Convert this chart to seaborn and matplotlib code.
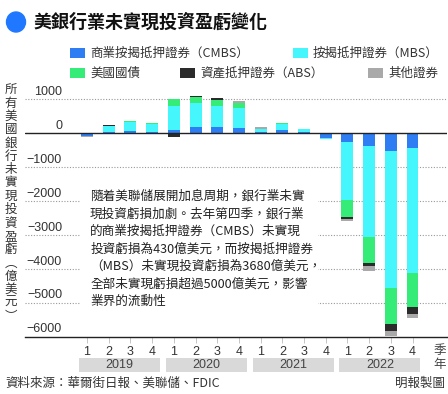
import numpy as np
import pandas as pd
import matplotlib
matplotlib.use("Agg")
import matplotlib.pyplot as plt
from matplotlib.patches import Rectangle, Ellipse
import seaborn as sns

# data (億美元)
years = ["2019", "2020", "2021", "2022"]
quarters = ["1", "2", "3", "4"] * 4
cmbs = [-75, 49, 69, 30, 98, 176, 186, 167, 30, 98, 49, -150, -245, -392, -520, -430]
mbs = [0, 167, 275, 245, 715, 725, 627, 588, 108, 186, 69, -30, -1716, -2678, -4030, -3680]
treasury = [0, 0, 20, 20, 186, 176, 167, 147, 0, 20, 0, 0, -520, -765, -1088, -1020]
abs_sec = [0, 30, 0, 0, -100, 25, 50, 0, 0, 0, 0, 0, -49, -88, -196, -186]
other = [-30, 0, 0, 0, 0, 0, 0, 50, 30, 0, 20, 0, -69, -147, -147, -147]

series_names = ["商業按揭抵押證券（CMBS）", "按揭抵押證券（MBS）", "美國國債",
                "資產抵押證券（ABS）", "其他證券"]
colors = ["#2e7df2", "#45f6fc", "#35ec78", "#2b2b2b", "#a9a9a9"]
yticks = [1000, 0, -1000, -2000, -3000, -4000, -5000, -6000]

df = pd.DataFrame({series_names[0]: cmbs, series_names[1]: mbs, series_names[2]: treasury,
                   series_names[3]: abs_sec, series_names[4]: other})

sns.set_theme(style="white")
plt.rcParams['font.family'] = ['Noto Sans CJK TC', 'DejaVu Sans']

W, H = 448, 394
fig = plt.figure(figsize=(W / 100, H / 100), dpi=100)
ax = fig.add_axes([25 / W, (H - 336.7) / H, 422 / W, (336.7 - 89.1) / H])

# stacked bars, positives go up and negatives go down
x = np.arange(len(df))
pos = np.zeros(len(df))
neg = np.zeros(len(df))
for col, c in zip(df.columns, colors):
    v = df[col].to_numpy(dtype=float)
    bottom = np.where(v >= 0, pos, neg)
    ax.bar(x, v, width=0.55, bottom=bottom, color=c, linewidth=0, zorder=3)
    pos = pos + np.clip(v, 0, None)
    neg = neg + np.clip(v, None, 0)

ax.set_xlim(-2.86, 16.59)
ax.set_ylim(-6000, 1300)

for t in yticks:
    if t == 0:
        ax.axhline(0, color="#222222", lw=1.0, zorder=4)
    elif t != -6000:
        ax.axhline(t, color="#999999", lw=0.8, ls=(0, (1, 1.5)), zorder=1)
    lab = str(t).replace("-", "\u2212")
    ax.text(-1.15, t + 40, lab, ha="right", va="bottom", fontsize=9,
            family=["Liberation Sans"], color="#333333", zorder=5)

sns.despine(ax=ax, left=True, top=True, right=True)
ax.spines["bottom"].set_color("#222222")
ax.spines["bottom"].set_linewidth(1.0)
ax.set_yticks([])
ax.set_xticks(x)
ax.set_xticklabels(quarters, fontsize=9, family=["Liberation Sans"], color="#333333")
ax.tick_params(axis="x", bottom=True, length=4, width=0.6, color="#bbbbbb", pad=3)
ax.grid(False)

# year boxes under the quarter labels
tr = ax.get_xaxis_transform()
for k, yr in enumerate(years):
    ax.add_patch(Rectangle((4 * k - 0.37, -0.141), 3.73, 0.0565, transform=tr,
                           facecolor="#d9d9d9", edgecolor="none", clip_on=False))
    ax.text(4 * k + 1.5, -0.113, yr, transform=tr, ha="center", va="center",
            fontsize=9, family=["Liberation Sans"], color="#444444")
ax.text(16.27, -0.055, "季", transform=tr, ha="center", va="center", fontsize=9, color="#444444")
ax.text(16.27, -0.113, "年", transform=tr, ha="center", va="center", fontsize=9, color="#444444")

# annotation box
ax.add_patch(Rectangle((-0.32, -5200), 10.97, 3680, facecolor="white", edgecolor="none", zorder=2))
note = ["隨着美聯儲展開加息周期，銀行業未實",
        "現投資虧損加劇。去年第四季，銀行業",
        "的商業按揭抵押證券（CMBS）未實現",
        "投資虧損為430億美元，而按揭抵押證券",
        "（MBS）未實現投資虧損為3680億美元，",
        "全部未實現虧損超過5000億美元，影響",
        "業界的流動性"]
for i, line in enumerate(note):
    ypx = 196.7 + 17.5 * i
    ax.text(0.14, (133.3 - ypx) / 34 * 1000, line, ha="left", va="center",
            fontsize=9.1, color="#222222", zorder=5)

# title
fig.add_artist(Ellipse((16 / W, 1 - 22 / H), 19 / W, 20 / H, color="#1f78ff"))
fig.text(33 / W, 1 - 22 / H, "美銀行業未實現投資盈虧變化", fontsize=13, fontweight="bold",
         ha="left", va="center", color="#111111")

# legend
legend_pos = [(70, 53), (293, 53), (70, 73), (180, 73), (368, 73)]
for name, c, (lx, ly) in zip(series_names, colors, legend_pos):
    fig.add_artist(Rectangle((lx / W, 1 - (ly + 5) / H), 15 / W, 10 / H,
                             facecolor=c, edgecolor="none"))
    fig.text((lx + 20) / W, 1 - ly / H, name, fontsize=9, ha="left", va="center", color="#333333")

# vertical y label
ylabel = "所有美國銀行未實現投資盈虧︵億美元︶"
for i, ch in enumerate(ylabel):
    fig.text(11 / W, 1 - (90 + 13.3 * i) / H, ch, fontsize=9, ha="center", va="center", color="#333333")

fig.text(5 / W, 1 - 383 / H, "資料來源：華爾街日報、美聯儲、FDIC", fontsize=9,
         ha="left", va="center", color="#333333")
fig.text(445 / W, 1 - 383 / H, "明報製圖", fontsize=9, ha="right", va="center", color="#333333")

fig.savefig("out.png", dpi=100)
